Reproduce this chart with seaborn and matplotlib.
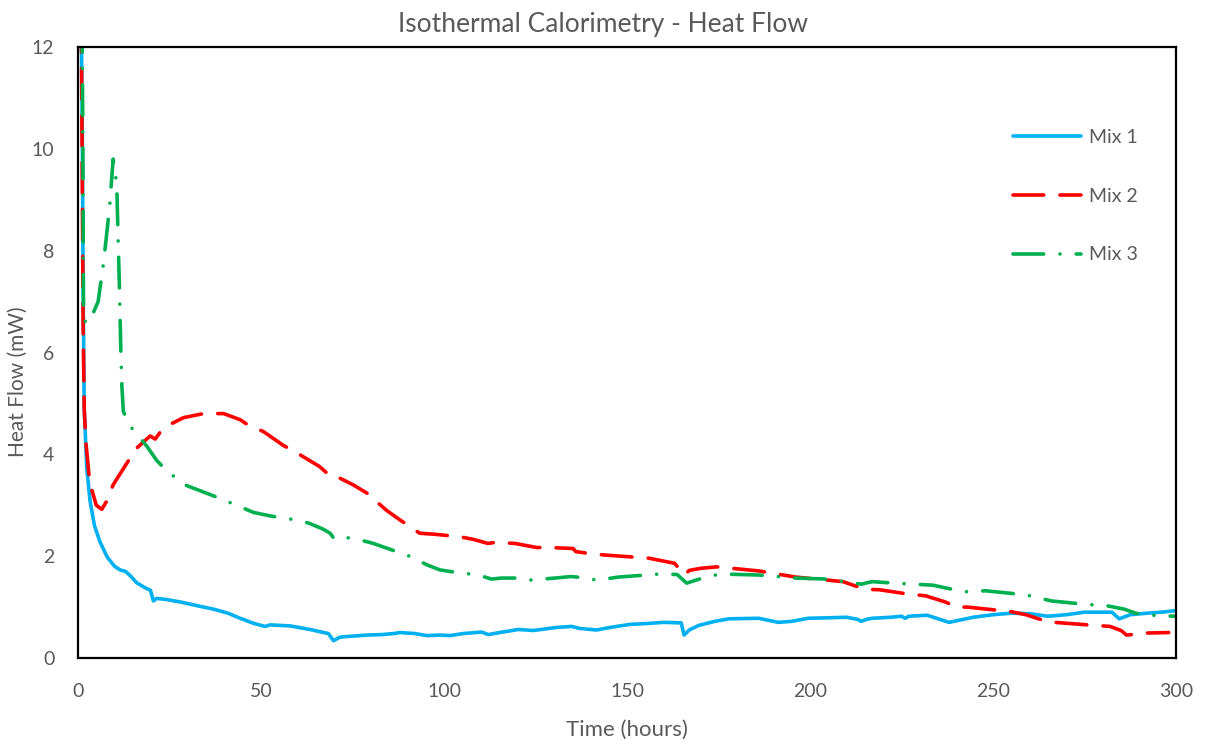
import matplotlib
matplotlib.use("Agg")
import matplotlib.pyplot as plt
import seaborn as sns
import pandas as pd

# ---------------- data ----------------
mix1_time = [0.9, 1.2, 1.4, 1.7, 2.4, 3.3, 4.5, 6, 8, 10, 11.5, 13, 14.5, 16, 18.3, 19.8, 20.6, 21.5,
             24, 28, 33, 37, 41, 44.3, 48, 51.1, 52.5, 58, 63.4, 68.4, 69.8, 71.6, 75, 78.9, 83, 86.2,
             88, 92, 95.3, 99, 101.6, 105.3, 110.3, 112.1, 115.2, 120.3, 124.4, 130.8, 134.9, 137.1,
             141.7, 145.4, 150.8, 156, 160, 164.8, 165.6, 167, 169.6, 174, 177.9, 186, 191.3, 195,
             199.5, 205, 210, 213, 214, 215.5, 217, 222, 225, 226, 227, 232, 238, 244.6, 250, 255,
             260, 265, 270, 275, 282.5, 284.5, 287.5, 292, 296, 300]
mix1_flow = [12.5, 10.1, 7.3, 4.9, 3.72, 3.08, 2.6, 2.28, 1.98, 1.8, 1.73, 1.7, 1.6, 1.48, 1.38, 1.33,
             1.12, 1.17, 1.15, 1.1, 1.02, 0.96, 0.88, 0.78, 0.68, 0.62, 0.65, 0.63, 0.56, 0.48, 0.34,
             0.41, 0.43, 0.45, 0.46, 0.48, 0.5, 0.48, 0.44, 0.45, 0.44, 0.48, 0.51, 0.46, 0.5, 0.56,
             0.54, 0.6, 0.62, 0.58, 0.55, 0.6, 0.66, 0.68, 0.7, 0.69, 0.45, 0.55, 0.64, 0.72, 0.77,
             0.78, 0.7, 0.72, 0.78, 0.79, 0.8, 0.76, 0.72, 0.76, 0.78, 0.8, 0.82, 0.78, 0.82, 0.84,
             0.7, 0.8, 0.85, 0.88, 0.87, 0.82, 0.85, 0.9, 0.9, 0.77, 0.85, 0.88, 0.9, 0.93]

mix2_time = [0.9, 1.2, 1.4, 1.7, 2.2, 3.0, 3.7, 5.0, 6.5, 8.0, 9.6, 12.4, 16, 19.7, 21.1, 22.9, 25.5,
             28.8, 34.3, 39.8, 44.3, 47, 50.6, 56, 60, 66, 69.3, 71.6, 75.2, 78.9, 84.3, 88, 93.4,
             97.5, 104.4, 108, 112, 114, 119.4, 125.3, 129, 135.3, 136, 140.8, 146.3, 156, 163,
             165.7, 167, 170, 174.5, 186, 196, 209, 215, 219, 225.5, 231.6, 237, 240, 243, 251,
             253.6, 259, 265, 276, 282, 285, 286.5, 292, 298]
mix2_flow = [12.5, 9.0, 6.5, 4.9, 4.2, 3.6, 3.32, 3.0, 2.92, 3.1, 3.4, 3.72, 4.12, 4.36, 4.3, 4.48, 4.6,
             4.72, 4.8, 4.8, 4.68, 4.55, 4.45, 4.18, 4.02, 3.76, 3.55, 3.53, 3.4, 3.24, 2.9, 2.71, 2.45,
             2.43, 2.38, 2.33, 2.25, 2.27, 2.25, 2.17, 2.17, 2.15, 2.09, 2.04, 2.01, 1.96, 1.86,
             1.63, 1.72, 1.76, 1.79, 1.71, 1.59, 1.5, 1.35, 1.34, 1.27, 1.22, 1.1, 1.0, 1.0, 0.94,
             0.93, 0.85, 0.71, 0.65, 0.62, 0.54, 0.45, 0.49, 0.5]

mix3_time = [1.1, 1.3, 1.5, 2.0, 3.3, 4.3, 5.5, 6.9, 7.8, 8.7, 9.6, 10.0, 10.6, 11.0, 11.3, 11.7, 12.0,
             12.4, 14.2, 18.8, 21.5, 24.2, 29.2, 37.9, 43.3, 47.9, 52.5, 58.8, 63, 67, 68.9, 69.8,
             71, 73, 77, 80.7, 87, 91, 95.3, 98.9, 101.6, 104.7, 109.4, 113, 115.7, 119.8, 123.5,
             130.3, 134.8, 139, 141.6, 147.8, 159, 163.7, 166.3, 171.5, 175.6, 186, 196, 204.6,
             214, 217, 223, 233.6, 242, 248, 259, 266, 274.5, 281.6, 285.8, 289, 295, 300]
mix3_flow = [12.5, 10.5, 6.92, 6.6, 6.6, 6.8, 7.0, 7.72, 8.3, 8.92, 9.8, 9.65, 9.25, 8.13, 7.33, 6.04,
             5.32, 4.84, 4.56, 4.16, 3.88, 3.68, 3.4, 3.16, 3.0, 2.86, 2.79, 2.72, 2.65, 2.53, 2.45,
             2.36, 2.4, 2.37, 2.32, 2.25, 2.09, 1.99, 1.83, 1.73, 1.7, 1.67, 1.63, 1.55, 1.57, 1.57,
             1.53, 1.57, 1.6, 1.57, 1.53, 1.59, 1.65, 1.64, 1.47, 1.59, 1.65, 1.63, 1.57, 1.55,
             1.45, 1.5, 1.47, 1.43, 1.3, 1.32, 1.24, 1.12, 1.06, 1.02, 0.96, 0.88, 0.83, 0.82]

series_names = ["Mix 1", "Mix 2", "Mix 3"]
x_ticks = [0, 50, 100, 150, 200, 250, 300]
y_ticks = [0, 2, 4, 6, 8, 10, 12]

# ---------------- plot ----------------
sns.set_theme(style="white")
plt.rcParams["font.family"] = ["Lato", "DejaVu Sans"]

fig = plt.figure(figsize=(12.07, 7.44), dpi=100)
ax = fig.add_axes([78 / 1207, 1 - 658 / 744, (1176 - 78) / 1207, (658 - 47) / 744])

gray = "#595959"
colors = ["#00B0F0", "#FF0000", "#00B050"]
styles = ["-", (0, (8.5, 4.5)), (0, (8.5, 4.5, 0.01, 4.5))]
datasets = [(mix1_time, mix1_flow), (mix2_time, mix2_flow), (mix3_time, mix3_flow)]

for name, (t, f), c, ls in zip(series_names, datasets, colors, styles):
    df = pd.DataFrame({"Time": t, "Flow": f})
    sns.lineplot(data=df, x="Time", y="Flow", ax=ax, color=c, linewidth=2.6,
                 linestyle=ls, label=name, sort=False,
                 dash_capstyle="round", solid_capstyle="round", solid_joinstyle="round")

ax.set_xlim(0, 300)
ax.set_ylim(0, 12)
ax.set_xticks(x_ticks)
ax.set_yticks(y_ticks)
ax.tick_params(axis="x", length=0, labelsize=14, labelcolor=gray, pad=18)
ax.tick_params(axis="y", length=0, labelsize=14, labelcolor=gray, pad=17)
for s in ax.spines.values():
    s.set_color("black")
    s.set_linewidth(1.6)

ax.set_xlabel("Time (hours)", fontsize=16, color=gray, labelpad=14)
ax.set_ylabel("Heat Flow (mW)", fontsize=15, color=gray)
ax.yaxis.set_label_coords(-0.0455, 0.453)
ax.set_title("Isothermal Calorimetry - Heat Flow", fontsize=19, color=gray, pad=11,
             x=(603.5 - 78) / 1098)

leg = ax.legend(loc="upper left", bbox_to_anchor=(0.8515, 0.866), frameon=False,
                fontsize=14, handlelength=3.5, labelspacing=2.15, borderpad=0,
                borderaxespad=0, handletextpad=0.4)
for txt in leg.get_texts():
    txt.set_color(gray)

fig.savefig("out.png", dpi=100)
